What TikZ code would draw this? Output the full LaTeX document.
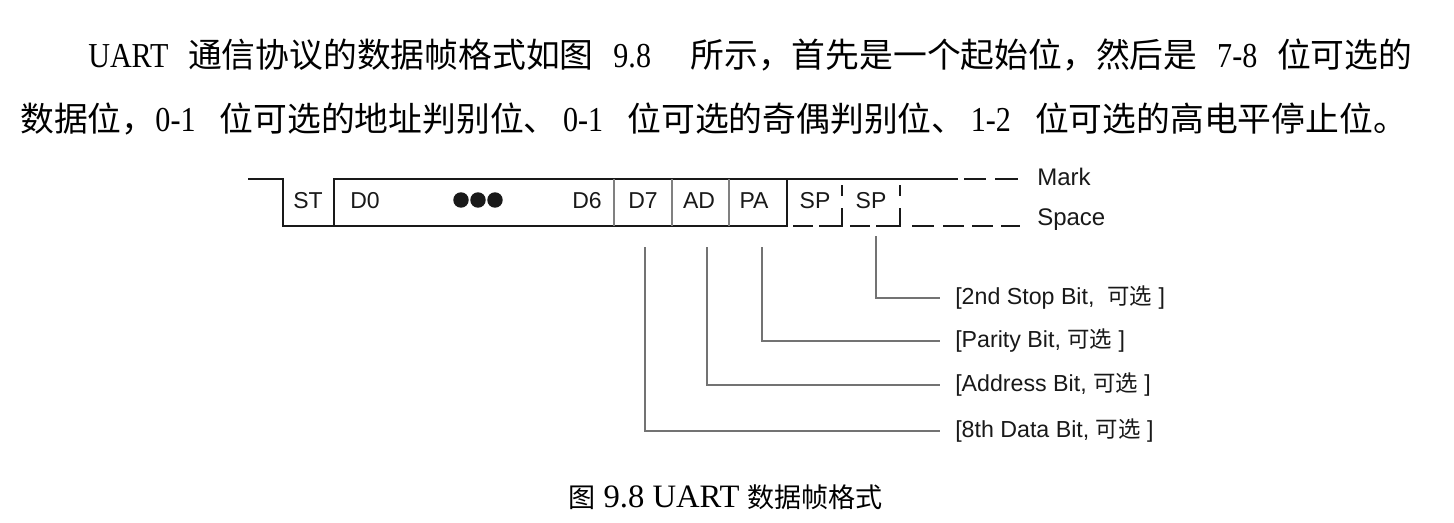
\documentclass[tikz,border=0pt]{standalone}
\usepackage{fontspec}
\setmainfont{Liberation Serif}
\newfontfamily\cjkf{Noto Sans CJK SC}
\newfontfamily\arialf{Liberation Sans}
\newfontfamily\bodylat{Liberation Serif}[FakeStretch=0.86]
\newcommand\Zb[1]{{\cjkf\fontsize{25.35pt}{30pt}\selectfont #1}}
\newcommand\Zc[1]{{\cjkf\fontsize{20.3pt}{24pt}\selectfont #1}}
\newcommand\Zl[1]{{\cjkf\fontsize{16.8pt}{20pt}\selectfont #1}}
\begin{document}
\begin{tikzpicture}[x=0.75pt,y=-0.75pt,
  wave/.style={line width=1.9pt,draw=black!90,line cap=rect},
  divider/.style={line width=1.1pt,draw=black!50},
  leader/.style={line width=1.1pt,draw=black!55},
  bitlbl/.style={inner sep=0pt,anchor=base,font=\arialf\fontsize{17.25pt}{20pt}\selectfont,text=black!90},
  levlbl/.style={inner sep=0pt,anchor=west,font=\arialf\fontsize{18pt}{21pt}\selectfont,text=black!90},
  annot/.style={inner xsep=11.25pt,inner ysep=0pt,anchor=west,font=\arialf\fontsize{17.4pt}{20pt}\selectfont,text=black!90},
  bodyline/.style={inner sep=0pt,anchor=base west,font=\bodylat\fontsize{26.25pt}{30pt}\selectfont}]
\path[use as bounding box,fill=white] (0,0) rectangle (1454,522);

% paragraph
\node[bodyline] (p1) at (88,67) {\hbox to 993pt{UART \Zb{通信协议的数据帧格式如图} 9.8\ \ \Zb{所示，首先是一个起始位，然后是} 7-8 \Zb{位可选的}}};
\node[bodyline] (p2) at (20,131) {\hbox to 1040pt{\Zb{数据位，}0-1 \Zb{位可选的地址判别位、}\kern4pt 0-1 \Zb{位可选的奇偶判别位、}\kern4pt 1-2 \Zb{位可选的高电平停止位。}}};

% waveform
\draw[wave] (249,179) -- (283,179) -- (283,226) -- (787,226);
\draw[wave] (334,226) -- (334,179) -- (957,179);
\draw[wave] (787,179) -- (787,226);
\foreach \x in {614,672,729} \draw[divider] (\x,179) -- (\x,226);
\foreach \a/\b in {964/986,995/1018} \draw[wave,line cap=butt] (\a,179) -- (\b,179);
\foreach \a/\b in {793/813,819/842,850/870,876/900,912/934,943/964,972/993,1001/1020}
  \draw[wave,line cap=butt] (\a,226) -- (\b,226);
\foreach \x in {842,900} {
  \draw[wave,line cap=butt] (\x,185) -- (\x,196);
  \draw[wave,line cap=butt] (\x,208) -- (\x,227);
}
\foreach \c in {461,478,495} \fill[black!90] (\c,200) circle[radius=5.8pt];

% bit names
\node[bitlbl] (st) at (308,208) {ST};
\node[bitlbl,anchor=base west] (d0) at (350,208) {D0};
\node[bitlbl,anchor=base east] (d6) at (602,208) {D6};
\node[bitlbl] (d7) at (643,208) {D7};
\node[bitlbl] (ad) at (699,208) {AD};
\node[bitlbl] (pa) at (754,208) {PA};
\node[bitlbl] (sp1) at (815,208) {SP};
\node[bitlbl] (sp2) at (871,208) {SP};

\node[levlbl] (mark) at (1037,177) {Mark};
\node[levlbl] (space) at (1037,220) {Space};

% leaders
\coordinate (t7) at (645,247);
\coordinate (tad) at (707,247);
\coordinate (tpa) at (762,247);
\coordinate (tsp) at (876,236);
\node[annot] (lsp) at (940,298) {[2nd Stop Bit,\ \ \Zl{可选} ]};
\node[annot] (lpa) at (940,341) {[Parity Bit, \Zl{可选} ]};
\node[annot] (lad) at (940,385) {[Address Bit, \Zl{可选} ]};
\node[annot] (l7) at (940,431) {[8th Data Bit, \Zl{可选} ]};
\draw[leader] (tsp) |- (lsp.west);
\draw[leader] (tpa) |- (lpa.west);
\draw[leader] (tad) |- (lad.west);
\draw[leader] (t7) |- (l7.west);

% caption
\node[inner sep=0pt,anchor=base west,font=\fontsize{24.5pt}{28pt}\selectfont] (cap) at (568,507) {\Zc{图} 9.8 UART \Zc{数据帧格式}};
\end{tikzpicture}
\end{document}
